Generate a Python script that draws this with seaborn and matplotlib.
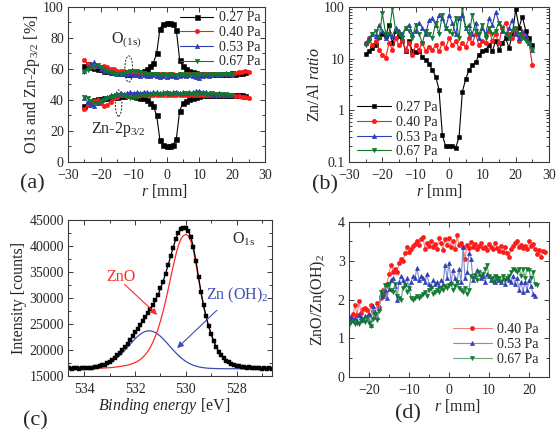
import numpy as np
import matplotlib
matplotlib.use("Agg")
import matplotlib.pyplot as plt
import seaborn as sns
from matplotlib.patches import Ellipse
from matplotlib.ticker import MultipleLocator, FuncFormatter

# ---------------- data ----------------
pressures = ["0.27 Pa", "0.40 Pa", "0.53 Pa", "0.67 Pa"]

# (a) O1s (upper) and Zn-2p3/2 (lower) atomic fractions vs r, 1 mm steps
r_a_black = np.arange(-25, 25)
o1s_027 = [62, 63, 61, 60.5, 60, 60, 59, 58.5, 58, 58, 58, 57.5, 57.5, 57, 57, 57.5, 58, 58, 59, 60,
           62, 64, 70, 86, 89, 89.5, 89.5, 89, 85, 66, 62, 60, 59, 58, 57.5, 57, 57, 56.5, 57, 57,
           57, 56.5, 57, 57, 57, 57.5, 57, 57.5, 57.5, 58]
zn_027 = [36, 37.5, 39, 40, 40.5, 40.5, 41, 41.5, 42, 42, 42, 42.5, 42.5, 43, 43, 42.5, 42, 41.5, 41, 40,
          38, 36, 30, 14, 11, 10.5, 10.5, 11, 15, 33, 38, 39.5, 40.5, 41, 42, 42.5, 43, 43, 43, 43,
          43, 43, 43, 43, 43.5, 43, 43, 43, 43.5, 42.5]
r_a_040 = np.arange(-25, 26)
o1s_040 = [66, 63, 62, 61.5, 62, 61, 62, 61, 60, 60, 59, 59, 58.5, 58, 58, 57.5, 57, 57, 57.5, 57,
           57, 56.5, 57, 56.5, 57, 56.5, 57, 56.5, 56, 56.5, 57, 56.5, 57, 56.5, 57, 56.5, 56, 56.5, 57, 56.5,
           57, 56.5, 57, 57, 56.5, 57, 57.5, 58, 58, 58.5, 58]
zn_040 = [34, 37, 38, 39.5, 40, 38, 36, 37, 39, 41, 42, 43, 43, 42.5, 43, 43, 42.5, 43, 43.5, 43,
          43, 43.5, 43, 43.5, 43, 43.5, 43, 43.5, 43, 43.5, 43, 43.5, 43, 43.5, 43, 43.5, 43, 43.5, 43, 43.5,
          43, 43.5, 43, 43, 43.5, 43, 42.5, 42.5, 42, 42, 41]
r_a_053 = np.arange(-25, 21)
o1s_053 = [59, 61, 63, 64.5, 62, 60, 59, 58.5, 58, 57.5, 57, 56.5, 56.5, 57, 56.5, 56, 56, 55.5, 56, 55.5,
           55.5, 56, 55.5, 55, 55.5, 55, 55.5, 55.5, 55, 55.5, 56, 55.5, 56, 55.5, 55, 54.5, 55.5, 56, 55.5, 56,
           56.5, 56, 57, 57.5, 56.5, 57]
zn_053 = [41, 39, 37.5, 36, 38, 40, 41, 42, 43, 43.5, 44, 44.5, 44, 44.5, 45, 44.5, 45, 44.5, 45, 45,
          44.5, 45, 45, 44.5, 45, 45, 44.5, 45, 45, 44.5, 45, 44.5, 45, 45, 45.5, 46, 45, 45, 44.5, 44,
          44, 44.5, 43.5, 43, 43.5, 43]
r_a_067 = np.arange(-25, 21)
o1s_067 = [58, 59.5, 61, 61.5, 62.5, 61, 60, 59, 58, 57, 56.5, 57, 57.5, 58, 58.5, 59, 58.5, 58, 57.5, 57,
           57, 56.5, 56.5, 56, 56.5, 56, 56.5, 56, 56, 56.5, 56, 56.5, 56, 56.5, 56.5, 56, 56.5, 56, 56.5, 56,
           56.5, 56.5, 57, 56.5, 57, 57]
zn_067 = [42, 41, 39.5, 38, 38, 39, 40, 41, 41.5, 42.5, 43, 43.5, 43, 42, 41.5, 41.5, 42, 42.5, 43, 43.5,
          43.5, 44, 44, 44, 44, 44.5, 44, 44, 44.5, 44, 44, 44.5, 44, 44, 44, 44, 44.5, 44, 44, 44.5,
          44, 44, 44, 44, 43.5, 43.5]

# (b) Zn/Al ratio vs r, 1 mm steps from -25 to 25
r_b = np.arange(-25, 26)
znal_027 = [12.5, 14, 16, 18, 26, 30, 28, 45, 20, 35, 28, 22, 14, 22, 14, 13.5, 14, 11, 9.5, 8,
            6, 4.5, 2.5, 0.33, 0.2, 0.2, 0.2, 0.19, 0.3, 2.3, 4, 6, 7.5, 8.5, 12, 14, 15, 18, 14, 22,
            15, 20, 25, 16, 30, 90, 40, 65, 35, 25, 18]
znal_040 = [20, 25, 18, 22, 15, 12, 10.5, 20, 15, 25, 18, 22, 15, 20, 12, 18, 15, 20, 14, 17,
            15, 18, 14, 20, 16, 25, 18, 22, 16, 20, 17, 25, 20, 30, 18, 22, 20, 35, 22, 30,
            20, 40, 50, 30, 25, 35, 22, 30, 25, 20, 7.5]
znal_053 = [20, 25, 30, 28, 45, 35, 25, 30, 28, 40, 35, 30, 40, 45, 30, 35, 50, 40, 30, 55,
            60, 45, 70, 60, 40, 70, 50, 30, 60, 70, 40, 45, 30, 50, 25, 40, 30, 60, 45, 80,
            50, 35, 30, 40, 55, 30, 25, 35, 28, 20, 15]
znal_067 = [18, 22, 30, 35, 25, 75, 30, 30, 95, 35, 30, 25, 40, 35, 25, 45, 30, 20, 35, 30,
            25, 50, 30, 70, 40, 35, 30, 60, 25, 95, 40, 30, 70, 35, 30, 45, 25, 40, 30, 35,
            50, 40, 30, 25, 35, 40, 30, 25, 22, 20, 15]

# (c) O1s spectrum, 0.1 eV steps from 534.6 eV down to 526.6 eV
be_c = np.round(np.arange(534.6, 526.55, -0.1), 1)
o1s_counts = [16480, 16390, 16450, 16520, 16400, 16480, 16540, 16500, 16620, 16580,
              16720, 16760, 16900, 17050, 17180, 17480, 17760, 18050, 18500, 18950,
              19400, 20050, 20600, 21250, 21980, 22650, 23380, 24100, 24850, 25500,
              26300, 27050, 27850, 28700, 29600, 30650, 31850, 33150, 34700, 36300,
              38050, 39700, 41300, 42550, 43300, 43500, 43400, 42900, 41700, 39750,
              37100, 34050, 31150, 28600, 26450, 24600, 23050, 21750, 20600, 19700,
              19000, 18400, 17950, 17620, 17330, 17180, 16980, 16900, 16760, 16750,
              16620, 16650, 16540, 16580, 16480, 16520, 16430, 16480, 16400, 16450, 16380]
zno_fit = [16410, 16412, 16415, 16418, 16422, 16427, 16433, 16440, 16448, 16458,
           16470, 16484, 16500, 16520, 16545, 16575, 16610, 16650, 16700, 16760,
           16830, 16910, 17000, 17110, 17240, 17400, 17600, 17850, 18170, 18580,
           19100, 19750, 20550, 21500, 22650, 24000, 25600, 27400, 29400, 31600,
           33900, 36100, 38200, 40000, 41300, 42000, 42250, 41950, 40900, 39100,
           36600, 33700, 30900, 28400, 26300, 24500, 23000, 21700, 20600, 19700,
           19000, 18400, 17950, 17600, 17350, 17150, 17000, 16880, 16790, 16720,
           16660, 16610, 16570, 16540, 16510, 16490, 16470, 16455, 16440, 16430, 16420]
znoh_fit = [16403, 16405, 16408, 16413, 16420, 16430, 16445, 16467, 16498, 16540,
            16597, 16674, 16774, 16904, 17067, 17270, 17517, 17813, 18158, 18554,
            18998, 19485, 20007, 20551, 21104, 21647, 22163, 22632, 23034, 23352,
            23573, 23686, 23686, 23573, 23352, 23034, 22632, 22163, 21647, 21104,
            20551, 20007, 19485, 18998, 18554, 18158, 17813, 17517, 17270, 17067,
            16904, 16774, 16674, 16597, 16540, 16498, 16467, 16445, 16430, 16420,
            16413, 16408, 16405, 16403, 16402, 16401, 16400, 16400, 16400, 16400,
            16400, 16400, 16400, 16400, 16400, 16400, 16400, 16400, 16400, 16400, 16400]

# (d) ZnO / Zn(OH)2 ratio vs r, 0.5 mm steps starting at -25 mm
ratio_040 = [1.50, 1.55, 1.62, 1.85, 1.60, 1.95, 1.65, 1.75, 1.78, 1.72,
             1.60, 1.85, 1.70, 1.58, 1.92, 1.80, 2.05, 2.25, 2.15, 2.40,
             2.65, 2.90, 2.72, 2.78, 2.70, 2.95, 3.05, 3.00, 3.20, 3.35,
             3.22, 3.30, 3.38, 3.42, 3.52, 3.40, 3.55, 3.62, 3.30, 3.45,
             3.38, 3.52, 3.35, 3.42, 3.30, 3.58, 3.45, 3.28, 3.55, 3.40,
             3.58, 3.35, 3.50, 3.30, 3.66, 3.40, 3.45, 3.35, 3.05, 3.40,
             3.32, 3.48, 3.35, 3.42, 3.30, 3.38, 3.45, 3.32, 3.36, 3.28,
             3.42, 3.35, 3.30, 3.45, 3.32, 3.25, 3.38, 3.22, 3.35, 3.20,
             3.10, 3.30, 3.38, 3.45, 3.50, 3.35, 3.40, 3.32, 3.38, 3.30,
             3.50, 3.38, 3.42, 3.30, 3.18, 3.28, 3.10, 3.26, 3.22]
ratio_053 = [1.50, 1.55, 1.48, 1.52, 1.45, 1.60, 1.55, 1.48, 1.58, 1.52,
             1.62, 1.35, 1.82, 1.68, 1.55, 1.78, 2.15, 2.10, 2.25, 2.05,
             2.28, 2.50, 2.55, 2.35, 2.00, 2.45, 2.60, 2.50, 2.40, 2.55,
             2.30, 2.45, 2.60, 2.55, 2.82, 2.50, 2.60, 2.55, 2.45, 2.65,
             2.40, 2.35, 2.50, 2.40, 2.45, 2.35, 2.50, 2.40, 2.90, 2.55,
             2.95, 2.45, 2.75, 2.55, 2.45, 2.80, 2.45, 3.35, 2.55, 2.70,
             3.20, 3.05, 2.50, 2.60, 2.75, 2.65, 2.55, 2.60, 2.45, 2.65,
             2.60, 2.50, 2.55, 2.45, 2.60, 2.50, 2.45, 2.55, 2.40, 2.55,
             2.50, 2.45, 2.60, 2.40, 2.55, 2.25, 2.45, 2.20, 2.45, 2.25,
             2.50, 2.35, 2.15, 2.10]
ratio_067 = [1.35, 1.42, 1.45, 1.38, 1.40, 1.38, 1.45, 1.50, 1.42, 1.55,
             1.40, 1.32, 1.50, 1.62, 1.48, 1.70, 2.20, 2.15, 2.38, 2.35,
             2.40, 2.25, 2.20, 2.40, 2.10, 2.05, 2.00, 2.30, 2.38, 2.20,
             2.30, 2.05, 2.00, 2.05, 2.10, 2.05, 2.10, 2.15, 2.20, 2.10,
             2.25, 2.30, 2.15, 2.20, 2.25, 2.20, 2.30, 2.25, 2.35, 2.30,
             2.38, 2.40, 2.25, 2.35, 2.45, 2.30, 2.25, 2.20, 2.30, 2.15,
             2.25, 2.60, 2.55, 2.62, 2.50, 2.70, 2.60, 2.65, 2.80, 2.90,
             2.60, 2.55, 2.45, 2.60, 2.50, 2.55, 2.45, 2.60, 2.50, 2.55,
             2.60, 2.70, 2.80, 2.75, 2.70, 2.80, 2.60, 2.80, 2.55, 2.80,
             2.75, 2.55, 2.72, 2.40, 2.38]
r_d_start, r_d_step = -25.0, 0.5

# ---------------- style ----------------
sns.set_style("ticks")
plt.rcParams["font.family"] = ["Liberation Serif", "DejaVu Serif"]
plt.rcParams["mathtext.fontset"] = "custom"
plt.rcParams["mathtext.rm"] = "Liberation Serif"
plt.rcParams["mathtext.it"] = "Liberation Serif:italic"
plt.rcParams["mathtext.bf"] = "Liberation Serif:bold"

FS = 10
LFS = 11.5
col = {"0.27 Pa": "#000000", "0.40 Pa": "#ff1a1a", "0.53 Pa": "#2e3db8", "0.67 Pa": "#0f7a2e"}
light = {"0.40 Pa": "#f08080", "0.53 Pa": "#7f8ad0", "0.67 Pa": "#6aa77a"}
mk = {"0.27 Pa": "s", "0.40 Pa": "o", "0.53 Pa": "^", "0.67 Pa": "v"}
SPINE = "#3a3a3a"


def style_axes(ax):
    for s in ax.spines.values():
        s.set_color(SPINE)
        s.set_linewidth(0.8)
    ax.tick_params(which="both", direction="in", top=True, right=True, labelsize=FS,
                   color=SPINE, width=0.7)
    ax.tick_params(axis="x", pad=5)
    ax.tick_params(axis="y", pad=3)
    ax.tick_params(which="major", length=3.5)
    ax.tick_params(which="minor", length=2)


def series(ax, x, y, key, label=None, ms=3.2, lw=0.8, line=None):
    sns.lineplot(x=x, y=y, ax=ax, color=line or col[key], marker=mk[key], markersize=ms,
                 markerfacecolor=col[key], markeredgecolor=col[key], markeredgewidth=0.4,
                 linewidth=lw, label=label, errorbar=None, sort=False)


fig = plt.figure(figsize=(5.57, 4.29), dpi=100)
ax_a = fig.add_axes([0.1221, 0.6224, 0.3537, 0.3613])
ax_b = fig.add_axes([0.6266, 0.6224, 0.3591, 0.3613])
ax_c = fig.add_axes([0.1221, 0.1235, 0.3662, 0.3636])
ax_d = fig.add_axes([0.6266, 0.1212, 0.3591, 0.3613])

leg_kw = dict(frameon=False, fontsize=FS, handlelength=2.4, handletextpad=0.4,
              labelspacing=0.12, borderaxespad=0.2)

# ---------------- (a) ----------------
series(ax_a, r_a_black, o1s_027, "0.27 Pa", "0.27 Pa", ms=3.6)
series(ax_a, r_a_black, zn_027, "0.27 Pa", ms=3.6)
series(ax_a, r_a_040, o1s_040, "0.40 Pa", "0.40 Pa")
series(ax_a, r_a_040, zn_040, "0.40 Pa")
series(ax_a, r_a_053, o1s_053, "0.53 Pa", "0.53 Pa")
series(ax_a, r_a_053, zn_053, "0.53 Pa")
series(ax_a, r_a_067, o1s_067, "0.67 Pa", "0.67 Pa")
series(ax_a, r_a_067, zn_067, "0.67 Pa")
ax_a.set_xlim(-30, 30)
ax_a.set_ylim(0, 100)
ax_a.xaxis.set_major_locator(MultipleLocator(10))
ax_a.xaxis.set_minor_locator(MultipleLocator(5))
ax_a.yaxis.set_major_locator(MultipleLocator(20))
ax_a.yaxis.set_minor_locator(MultipleLocator(10))
ax_a.set_xlabel("$r$ [mm]", fontsize=LFS, labelpad=0)
ax_a.xaxis.label.set_x(0.49)
ax_a.set_ylabel("O1s and Zn-2p$_{3/2}$ [%]", fontsize=LFS, labelpad=1)
ax_a.add_patch(Ellipse((-11.5, 60), 2.4, 17, fill=False, ls=(0, (2, 1.5)), lw=0.7, ec="#222"))
ax_a.add_patch(Ellipse((-14.6, 38), 2.0, 17, fill=False, ls=(0, (2, 1.5)), lw=0.7, ec="#222"))
ax_a.text(-12.2, 78.5, r"O$_{\mathrm{(1s)}}$", fontsize=LFS, ha="center", va="center")
ax_a.text(-14.8, 21, r"Zn-2p$_{3/2}$", fontsize=LFS, ha="center", va="center")
ax_a.legend(loc="upper right", bbox_to_anchor=(1.02, 1.025), **leg_kw)
style_axes(ax_a)

# ---------------- (b) ----------------
for key, vals in zip(pressures, [znal_027, znal_040, znal_053, znal_067]):
    series(ax_b, r_b, vals, key, key, ms=3.4 if key == "0.27 Pa" else 3.2)
ax_b.set_yscale("log")
ax_b.set_xlim(-30, 30)
ax_b.set_ylim(0.1, 100)
ax_b.xaxis.set_major_locator(MultipleLocator(10))
ax_b.xaxis.set_minor_locator(MultipleLocator(5))
ax_b.yaxis.set_major_formatter(FuncFormatter(lambda v, _: f"{v:g}"))
ax_b.set_xlabel("$r$ [mm]", fontsize=LFS, labelpad=0)
ax_b.xaxis.label.set_x(0.45)
ax_b.set_ylabel(r"Zn/Al $\mathit{ratio}$", fontsize=LFS, labelpad=1)
ax_b.legend(loc="lower left", bbox_to_anchor=(0.0, -0.03), **leg_kw)
style_axes(ax_b)

# ---------------- (c) ----------------
sns.lineplot(x=be_c, y=znoh_fit, ax=ax_c, color="#3a4fb0", linewidth=0.9, sort=False, errorbar=None)
sns.lineplot(x=be_c, y=zno_fit, ax=ax_c, color="#ff2a2a", linewidth=0.9, sort=False, errorbar=None)
sns.lineplot(x=be_c, y=o1s_counts, ax=ax_c, color="black", linewidth=0.9, marker="s", markersize=3.4,
             markerfacecolor="black", markeredgecolor="black", markeredgewidth=0.3,
             sort=False, errorbar=None)
ax_c.set_xlim(534.65, 526.6)
ax_c.set_ylim(15000, 45000)
ax_c.xaxis.set_major_locator(MultipleLocator(2))
ax_c.xaxis.set_minor_locator(MultipleLocator(1))
ax_c.yaxis.set_major_locator(MultipleLocator(5000))
ax_c.yaxis.set_minor_locator(MultipleLocator(2500))
ax_c.set_xlabel(r"$\mathit{Binding\ energy}$ [eV]", fontsize=LFS, labelpad=0)
ax_c.xaxis.label.set_x(0.47)
ax_c.set_ylabel("Intensity [counts]", fontsize=LFS, labelpad=2)
ax_c.text(532.55, 34100, "ZnO", color="#ff2a2a", fontsize=LFS, ha="center", va="center")
ax_c.annotate("", xy=(531.05, 26400), xytext=(532.5, 33000),
              arrowprops=dict(arrowstyle="-|>", color="#ff2a2a", lw=0.8, mutation_scale=9))
ax_c.text(527.95, 30600, "Zn (OH)$_2$", color="#3a4fb0", fontsize=LFS, ha="center", va="center")
ax_c.annotate("", xy=(530.42, 20000), xytext=(528.7, 28000),
              arrowprops=dict(arrowstyle="-|>", color="#3a4fb0", lw=0.8, mutation_scale=9))
ax_c.text(527.7, 41200, r"O$_{\mathrm{1s}}$", fontsize=LFS, ha="center", va="center")
style_axes(ax_c)

# ---------------- (d) ----------------
for key, vals in zip(pressures[1:], [ratio_040, ratio_053, ratio_067]):
    rr = r_d_start + r_d_step * np.arange(len(vals))
    series(ax_d, rr, vals, key, key, ms=3.0, lw=0.8, line=light[key])
ax_d.set_xlim(-25, 25)
ax_d.set_ylim(0, 4)
ax_d.xaxis.set_major_locator(MultipleLocator(10))
ax_d.xaxis.set_minor_locator(MultipleLocator(5))
ax_d.yaxis.set_major_locator(MultipleLocator(1))
ax_d.yaxis.set_minor_locator(MultipleLocator(0.5))
ax_d.set_xlabel("$r$ [mm]", fontsize=LFS, labelpad=0)
ax_d.xaxis.label.set_x(0.54)
ax_d.set_ylabel("ZnO/Zn(OH)$_2$", fontsize=LFS, labelpad=7)
d_kw = dict(leg_kw, handlelength=2.8)
ax_d.legend(loc="lower right", bbox_to_anchor=(0.99, 0.02), **d_kw)
style_axes(ax_d)

# panel letters
fig.text(0.059, 0.572, "(a)", fontsize=16, ha="center", va="center")
fig.text(0.584, 0.569, "(b)", fontsize=16, ha="center", va="center")
fig.text(0.063, 0.020, "(c)", fontsize=16, ha="center", va="center")
fig.text(0.733, 0.036, "(d)", fontsize=16, ha="center", va="center")

fig.savefig("out.png", dpi=100)
